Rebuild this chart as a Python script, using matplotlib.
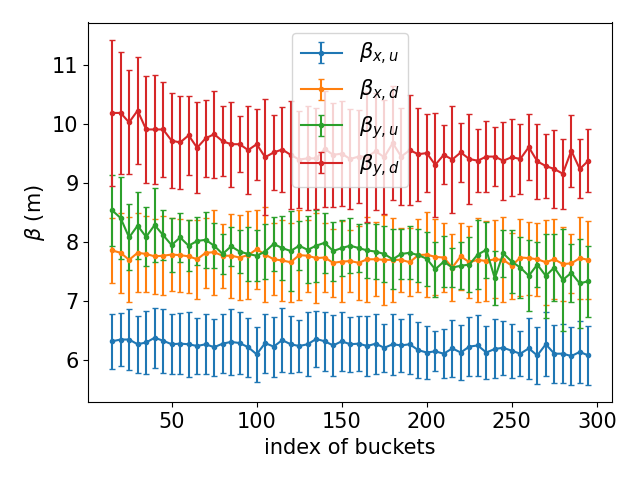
import numpy as np
import matplotlib
matplotlib.use('Agg')
import matplotlib.pyplot as plt

plt.rcParams['font.size'] = 15

# bucket index
buckets = np.arange(15, 300, 5)

beta_xu = [6.32, 6.35, 6.35, 6.27, 6.30, 6.38, 6.33, 6.27, 6.28, 6.27,
           6.24, 6.27, 6.22, 6.28, 6.31, 6.29, 6.22, 6.10, 6.29, 6.23,
           6.34, 6.27, 6.24, 6.27, 6.36, 6.32, 6.25, 6.32, 6.27, 6.28,
           6.24, 6.28, 6.21, 6.27, 6.25, 6.27, 6.17, 6.13, 6.15, 6.11,
           6.20, 6.13, 6.23, 6.25, 6.13, 6.19, 6.21, 6.16, 6.11, 6.20,
           6.08, 6.27, 6.11, 6.11, 6.07, 6.14, 6.08]
err_xu = [0.47, 0.45, 0.51, 0.48, 0.53, 0.51, 0.54, 0.51, 0.52, 0.55,
          0.48, 0.51, 0.48, 0.50, 0.56, 0.52, 0.50, 0.47, 0.50, 0.51,
          0.54, 0.48, 0.44, 0.54, 0.48, 0.50, 0.51, 0.50, 0.47, 0.47,
          0.51, 0.51, 0.41, 0.52, 0.45, 0.51, 0.47, 0.45, 0.34, 0.41,
          0.48, 0.47, 0.50, 0.51, 0.45, 0.50, 0.46, 0.46, 0.38, 0.52,
          0.48, 0.54, 0.49, 0.50, 0.49, 0.53, 0.50]

beta_xd = [7.86, 7.82, 7.70, 7.82, 7.80, 7.76, 7.77, 7.79, 7.78, 7.76,
           7.71, 7.82, 7.83, 7.77, 7.77, 7.74, 7.78, 7.88, 7.79, 7.71,
           7.69, 7.66, 7.78, 7.77, 7.73, 7.74, 7.65, 7.67, 7.68, 7.65,
           7.71, 7.71, 7.70, 7.70, 7.70, 7.66, 7.78, 7.79, 7.75, 7.74,
           7.57, 7.76, 7.66, 7.70, 7.68, 7.71, 7.70, 7.60, 7.74, 7.73,
           7.71, 7.66, 7.71, 7.63, 7.64, 7.73, 7.70]
err_xd = [0.55, 0.68, 0.72, 0.67, 0.65, 0.64, 0.67, 0.62, 0.62, 0.62,
          0.67, 0.59, 0.72, 0.54, 0.71, 0.72, 0.74, 0.67, 0.80, 0.61,
          0.68, 0.67, 0.76, 0.61, 0.76, 0.58, 0.58, 0.69, 0.52, 0.63,
          0.72, 0.63, 0.76, 0.71, 0.54, 0.58, 0.62, 0.72, 0.64, 0.58,
          0.56, 0.57, 0.61, 0.71, 0.68, 0.66, 0.72, 0.56, 0.66, 0.62,
          0.62, 0.72, 0.68, 0.62, 0.50, 0.70, 0.66]

beta_yu = [8.54, 8.41, 8.08, 8.28, 8.09, 8.29, 8.12, 7.95, 8.08, 7.94,
           8.02, 8.04, 7.94, 7.80, 7.93, 7.84, 7.80, 7.77, 7.84, 7.97,
           7.90, 7.85, 7.94, 7.87, 7.94, 7.99, 7.85, 7.90, 7.94, 7.90,
           7.86, 7.84, 7.80, 7.71, 7.80, 7.82, 7.78, 7.72, 7.54, 7.67,
           7.57, 7.60, 7.62, 7.79, 7.87, 7.39, 7.81, 7.67, 7.57, 7.43,
           7.62, 7.43, 7.57, 7.36, 7.48, 7.30, 7.34]
err_yu = [0.60, 0.69, 0.56, 0.57, 0.50, 0.63, 0.42, 0.46, 0.41, 0.43,
          0.40, 0.47, 0.38, 0.34, 0.33, 0.37, 0.45, 0.43, 0.47, 0.46,
          0.54, 0.67, 0.42, 0.57, 0.61, 0.51, 0.50, 0.48, 0.47, 0.41,
          0.47, 0.47, 0.48, 0.51, 0.42, 0.45, 0.45, 0.46, 0.47, 0.43,
          0.33, 0.40, 0.46, 0.58, 0.48, 0.46, 0.40, 0.54, 0.51, 0.60,
          0.38, 0.71, 0.56, 0.86, 0.49, 0.75, 0.60]

beta_yd = [10.19, 10.19, 10.03, 10.23, 9.91, 9.91, 9.91, 9.72, 9.69, 9.81,
           9.60, 9.76, 9.83, 9.71, 9.66, 9.66, 9.56, 9.66, 9.44, 9.52,
           9.57, 9.48, 9.40, 9.42, 9.42, 9.58, 9.48, 9.50, 9.41, 9.45,
           9.45, 9.54, 9.44, 9.68, 9.45, 9.56, 9.49, 9.51, 9.31, 9.48,
           9.40, 9.52, 9.41, 9.38, 9.45, 9.45, 9.38, 9.44, 9.41, 9.61,
           9.37, 9.29, 9.24, 9.16, 9.55, 9.24, 9.38]
err_yd = [1.24, 1.03, 0.88, 0.91, 0.90, 0.93, 0.80, 0.80, 0.79, 0.67,
          0.77, 0.65, 0.74, 0.59, 0.72, 0.47, 0.75, 0.60, 0.98, 0.64,
          0.72, 0.92, 0.82, 0.88, 0.85, 0.98, 0.88, 0.89, 0.84, 0.79,
          1.10, 0.99, 0.97, 0.96, 0.82, 0.93, 0.79, 0.66, 0.88, 0.50,
          0.90, 0.50, 0.77, 0.53, 0.60, 0.50, 0.66, 0.65, 0.59, 0.56,
          0.64, 0.55, 0.66, 0.59, 0.61, 0.50, 0.53]

fig, ax = plt.subplots(figsize=(6.4, 4.8), dpi=100)
ax.errorbar(buckets, beta_xu, yerr=err_xu, fmt='.-', capsize=2.5, label=r'$\beta_{x,u}$')
ax.errorbar(buckets, beta_xd, yerr=err_xd, fmt='.-', capsize=2.5, label=r'$\beta_{x,d}$')
ax.errorbar(buckets, beta_yu, yerr=err_yu, fmt='.-', capsize=2.5, label=r'$\beta_{y,u}$')
ax.errorbar(buckets, beta_yd, yerr=err_yd, fmt='.-', capsize=2.5, label=r'$\beta_{y,d}$')
ax.set_xlabel('index of buckets')
ax.set_ylabel(r'$\beta$ (m)')
ax.legend(loc='upper center')
fig.tight_layout()
fig.savefig('out.png')
